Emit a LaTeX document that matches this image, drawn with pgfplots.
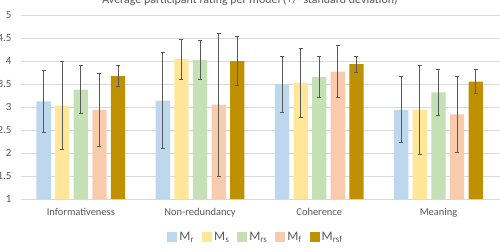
\documentclass[border=0pt]{standalone}
\usepackage{pgfplots}
\pgfplotsset{compat=1.18}
\usepackage{fontspec}
\setmainfont{Carlito}

\definecolor{cR}{HTML}{BDD7EE}
\definecolor{cS}{HTML}{FFE699}
\definecolor{cRS}{HTML}{C5E0B4}
\definecolor{cF}{HTML}{F8CBAD}
\definecolor{cRSF}{HTML}{BF9000}
\definecolor{gridgray}{HTML}{D9D9D9}
\definecolor{labgray}{HTML}{595959}
\definecolor{errgray}{HTML}{595959}

\pgfplotsset{
  errstyle/.style={
    error bars/.cd, y dir=both, y explicit,
    error bar style={draw=errgray, line width=0.8pt},
    error mark options={rotate=90, mark size=2bp, draw=errgray, line width=0.8pt}
  }
}

\begin{document}
\begin{tikzpicture}
\begin{axis}[
  scale only axis,
  width=479bp, height=184bp,
  ymin=1, ymax=5,
  ytick={1,1.5,2,2.5,3,3.5,4,4.5,5},
  xmin=-0.502, xmax=3.516,
  xtick={0,1,2,3},
  xticklabels={Informativeness,Non-redundancy,Coherence,Meaning},
  ybar=4.3bp, bar width=14.3bp,
  axis line style={draw=none},
  major tick length=0pt,
  ymajorgrids,
  grid style={draw=gridgray, line width=0.8pt},
  /pgf/number format/assume math mode=true,
  xticklabel style={font=\fontsize{10.5}{12}\selectfont, text=labgray, yshift=-6bp},
  yticklabel style={font=\fontsize{11}{13}\selectfont, text=labgray, anchor=east, xshift=-6bp},
  legend columns=5,
  legend style={
    at={(0.4906,-0.207)}, anchor=center, draw=none, fill=none,
    font=\fontsize{13}{15}\selectfont, text=labgray,
    /tikz/every even column/.append style={column sep=6bp},
  },
  legend image code/.code={\fill[#1] (0bp,-5bp) rectangle (10bp,5bp);},
]
% M_r
\addplot[fill=cR, draw=none, errstyle] coordinates {
  (0,3.12) +- (0,0.68)
  (1,3.14) +- (0,1.05)
  (2,3.50) +- (0,0.61)
  (3,2.94) +- (0,0.72)
};
% M_s
\addplot[fill=cS, draw=none, errstyle] coordinates {
  (0,3.03) +- (0,0.96)
  (1,4.04) +- (0,0.43)
  (2,3.53) +- (0,0.75)
  (3,2.94) +- (0,0.97)
};
% M_rs
\addplot[fill=cRS, draw=none, errstyle] coordinates {
  (0,3.38) +- (0,0.52)
  (1,4.02) +- (0,0.43)
  (2,3.65) +- (0,0.44)
  (3,3.32) +- (0,0.50)
};
% M_f
\addplot[fill=cF, draw=none, errstyle] coordinates {
  (0,2.94) +- (0,0.80)
  (1,3.05) +- (0,1.56)
  (2,3.77) +- (0,0.56)
  (3,2.84) +- (0,0.83)
};
% M_rsf
\addplot[fill=cRSF, draw=none, errstyle] coordinates {
  (0,3.67) +- (0,0.23)
  (1,4.00) +- (0,0.53)
  (2,3.93) +- (0,0.18)
  (3,3.55) +- (0,0.26)
};
\legend{M\textsubscript{r},M\textsubscript{s},M\textsubscript{rs},M\textsubscript{f},M\textsubscript{rsf}}
\end{axis}
\node[anchor=base, font=\fontsize{12}{14}\selectfont, text=labgray]
  at (229bp,195bp) {Average participant rating per model (+/- standard deviation)};
\pgfresetboundingbox
\useasboundingbox (-21bp,-51bp) rectangle (479bp,199bp);
\end{tikzpicture}
\end{document}
